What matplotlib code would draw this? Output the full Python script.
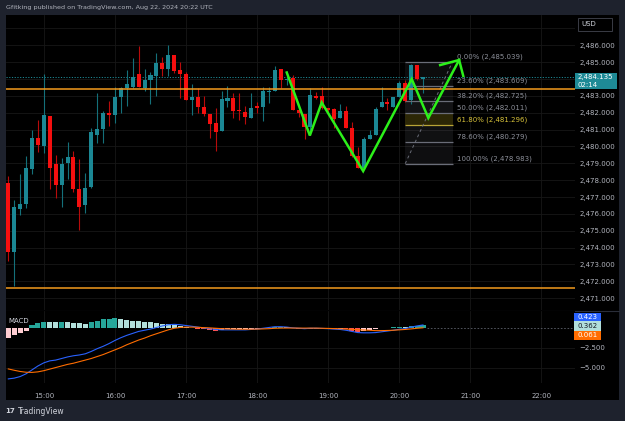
import matplotlib
matplotlib.use("Agg")
import matplotlib.pyplot as plt
import numpy as np
import pandas as pd
from matplotlib.patches import Rectangle
from matplotlib.ticker import FixedLocator, FuncFormatter

# ---------------- data ----------------
start_time = "2024-08-22 14:30"
opens = [2477.85, 2473.76, 2476.31, 2476.60, 2478.68, 2480.48, 2480.04, 2481.81, 2478.96, 2477.70,
         2479.04, 2479.36, 2477.48, 2476.54, 2477.61, 2480.66, 2481.02, 2481.98, 2481.88, 2482.95,
         2483.48, 2483.54, 2484.28, 2483.48, 2483.94, 2484.20, 2484.93, 2484.61, 2485.42, 2484.53,
         2484.28, 2482.75, 2482.91, 2482.34, 2481.92, 2481.39, 2480.93, 2482.71, 2482.87, 2482.16,
         2482.06, 2481.70, 2482.40, 2482.32, 2483.21, 2483.27, 2484.59, 2483.92, 2484.04, 2482.16,
         2481.91, 2481.17, 2482.99, 2482.99, 2482.26, 2482.20, 2481.67, 2482.10, 2481.08, 2479.43,
         2478.72, 2480.42, 2480.68, 2482.32, 2482.62, 2482.32, 2482.95, 2483.74, 2482.75, 2484.83,
         2483.98]
closes = [2473.76, 2476.39, 2476.59, 2478.74, 2480.48, 2480.09, 2481.86, 2478.74, 2477.70, 2478.96,
          2479.36, 2477.48, 2476.41, 2477.52, 2480.86, 2481.03, 2481.98, 2481.88, 2482.95, 2483.48,
          2483.69, 2484.14, 2483.53, 2483.96, 2484.26, 2484.95, 2484.61, 2485.42, 2484.47, 2484.28,
          2482.75, 2482.93, 2482.32, 2481.92, 2481.35, 2480.86, 2482.80, 2482.87, 2482.08, 2482.08,
          2481.75, 2482.30, 2482.30, 2483.31, 2483.29, 2484.53, 2483.94, 2483.98, 2482.14, 2481.97,
          2481.17, 2483.05, 2482.89, 2482.26, 2482.16, 2481.63, 2482.10, 2481.08, 2479.45, 2478.70,
          2480.47, 2480.68, 2482.22, 2482.65, 2482.50, 2482.95, 2483.74, 2482.70, 2484.83, 2484.00,
          2484.135]
highs = [2478.26, 2476.82, 2478.37, 2479.43, 2480.98, 2481.57, 2484.28, 2481.81, 2479.49, 2479.30,
         2480.26, 2479.75, 2479.26, 2478.41, 2481.08, 2483.15, 2482.12, 2482.70, 2483.54, 2483.54,
         2484.53, 2485.26, 2485.97, 2484.59, 2484.40, 2485.54, 2485.29, 2486.02, 2485.42, 2484.99,
         2484.43, 2483.72, 2483.48, 2482.99, 2481.92, 2482.30, 2483.31, 2483.58, 2483.15, 2483.15,
         2482.42, 2483.19, 2482.64, 2483.54, 2483.54, 2484.79, 2484.59, 2484.14, 2484.24, 2482.16,
         2481.91, 2483.45, 2483.25, 2483.54, 2482.26, 2482.26, 2482.52, 2482.40, 2481.47, 2479.95,
         2480.58, 2480.98, 2482.36, 2483.51, 2482.86, 2482.95, 2483.90, 2483.94, 2484.89, 2484.83,
         2484.14]
lows = [2473.22, 2471.72, 2475.93, 2476.33, 2478.37, 2479.69, 2479.63, 2477.46, 2476.96, 2476.43,
        2478.07, 2477.32, 2475.04, 2476.03, 2477.52, 2480.19, 2480.22, 2481.21, 2481.37, 2481.97,
        2482.40, 2483.48, 2483.53, 2483.31, 2482.50, 2483.01, 2484.20, 2484.20, 2484.37, 2482.86,
        2482.75, 2481.88, 2482.00, 2481.82, 2480.48, 2479.73, 2480.93, 2482.36, 2481.69, 2481.57,
        2481.35, 2481.70, 2482.00, 2481.51, 2482.56, 2483.27, 2483.45, 2483.64, 2482.14, 2481.76,
        2480.42, 2480.87, 2482.80, 2482.20, 2482.06, 2481.08, 2481.67, 2481.08, 2479.39, 2478.70,
        2478.64, 2480.42, 2480.68, 2482.32, 2482.16, 2482.32, 2482.95, 2482.65, 2482.52, 2483.94,
        2483.15]

macd_hist = [-1.19, -0.85, -0.64, -0.30, 0.42, 0.64, 0.81, 0.80, 0.76, 0.85,
             0.81, 0.68, 0.64, 0.55, 0.81, 0.98, 1.15, 1.19, 1.27, 1.15,
             1.06, 0.98, 0.89, 0.81, 0.76, 0.68, 0.59, 0.51, 0.38, 0.30,
             0.17, 0.05, -0.05, -0.15, -0.25, -0.30, -0.20, -0.15, -0.15, -0.12,
             -0.12, -0.08, -0.06, 0.00, 0.05, 0.15, 0.15, 0.12, 0.00, -0.05,
             -0.12, -0.05, -0.03, -0.05, -0.06, -0.10, -0.08, -0.15, -0.30, -0.45,
             -0.35, -0.25, -0.12, 0.00, 0.08, 0.12, 0.20, 0.15, 0.30, 0.35,
             0.362]
macd_line = [-6.45, -6.35, -6.15, -5.80, -5.30, -4.80, -4.40, -4.15, -4.05, -3.85,
             -3.65, -3.50, -3.40, -3.25, -2.95, -2.60, -2.30, -1.95, -1.55, -1.20,
             -0.90, -0.65, -0.40, -0.25, -0.10, 0.10, 0.30, 0.45, 0.50, 0.45,
             0.35, 0.25, 0.15, 0.05, -0.05, -0.15, -0.20, -0.20, -0.20, -0.20,
             -0.20, -0.15, -0.10, 0.00, 0.10, 0.20, 0.20, 0.15, 0.05, 0.00,
             -0.05, 0.00, 0.00, -0.02, -0.05, -0.10, -0.15, -0.25, -0.40, -0.55,
             -0.58, -0.58, -0.55, -0.45, -0.35, -0.25, -0.12, -0.05, 0.15, 0.30,
             0.423]
signal_line = [-5.18, -5.35, -5.50, -5.60, -5.62, -5.55, -5.40, -5.20, -5.00, -4.80,
               -4.60, -4.45, -4.25, -4.05, -3.85, -3.60, -3.35, -3.05, -2.75, -2.45,
               -2.10, -1.80, -1.50, -1.25, -0.95, -0.70, -0.45, -0.20, 0.00, 0.10,
               0.15, 0.15, 0.12, 0.08, 0.05, 0.00, -0.05, -0.08, -0.10, -0.12,
               -0.12, -0.12, -0.10, -0.08, -0.05, 0.00, 0.02, 0.03, 0.03, 0.02,
               0.02, 0.02, 0.02, 0.00, -0.02, -0.04, -0.06, -0.10, -0.13, -0.18,
               -0.22, -0.25, -0.30, -0.30, -0.28, -0.25, -0.20, -0.15, -0.08, 0.00,
               0.061]

support_resistance = [2483.39, 2471.60]

fib_pcts = ["0.00%", "23.60%", "38.20%", "50.00%", "61.80%", "78.60%", "100.00%"]
fib_prices = [2485.039, 2483.609, 2482.725, 2482.011, 2481.296, 2480.279, 2478.983]
fib_start, fib_end = 67.0, 75.0

zig_x = [47.0, 50.9, 52.9, 59.9, 68.1, 70.9, 76.1]
zig_p = [2484.39, 2480.65, 2482.61, 2478.54, 2484.00, 2481.69, 2485.13]
arrow_wing_x = [72.9, 76.1, 76.8]
arrow_wing_p = [2484.83, 2485.13, 2484.18]

price_ticks = [2471, 2472, 2473, 2474, 2475, 2476, 2477, 2478, 2479, 2480,
               2481, 2482, 2483, 2485, 2486]
hour_labels = ["15:00", "16:00", "17:00", "18:00", "19:00", "20:00", "21:00", "22:00"]
macd_ticks = [-2.5, -5.0]
macd_last = [0.423, 0.362, 0.061]

# ---------------- layout helpers ----------------
W, H = 625, 421
def fx(px): return px / W
def fy(py): return 1 - py / H

FRAME = "#1e222d"
PANEL = "#000000"
GRID = "#171717"
UP = "#1b8794"
DOWN = "#f50f0f"
UP_WICK = "#14707a"
DOWN_WICK = "#b80b0b"
TXT = "#b2b5be"

fig = plt.figure(figsize=(W / 100, H / 100), dpi=100, facecolor=FRAME)
fig.patches.append(Rectangle((fx(6), fy(400)), (619 - 6) / W, (400 - 15) / H,
                             transform=fig.transFigure, facecolor=PANEL, edgecolor="none", zorder=-5))

n = len(opens)
idx = np.arange(n)
times = pd.date_range(start_time, periods=n, freq="5min")
t0 = times[0]
hour_pos = [((pd.Timestamp("2024-08-22 " + h) - t0).total_seconds() / 300.0) for h in hour_labels]

xlim = (-0.39, 95.66)

# ---------------- main price pane ----------------
ax = fig.add_axes([fx(6), fy(310), (575 - 6) / W, (310 - 15) / H])
ax.set_zorder(2)
ax.set_facecolor(PANEL)
ax.set_xlim(*xlim)
ax.set_ylim(2470.30, 2487.80)
for s in ax.spines.values():
    s.set_visible(False)
ax.yaxis.tick_right()
ax.yaxis.set_major_locator(FixedLocator(price_ticks))
ax.yaxis.set_major_formatter(FuncFormatter(lambda v, p: f"{v:,.3f}"))
ax.tick_params(axis="y", length=0, pad=3, labelsize=5, labelcolor=TXT)
ax.set_xticks(hour_pos)
ax.tick_params(axis="x", length=0, labelbottom=False)
for p in range(2471, 2488):
    ax.axhline(p, color=GRID, lw=0.6, zorder=0)
for hp in hour_pos:
    ax.axvline(hp, color=GRID, lw=0.6, zorder=0)

o = np.array(opens); c = np.array(closes); hi = np.array(highs); lo = np.array(lows)
up = c >= o
colors = np.where(up, UP, DOWN)
wick_colors = np.where(up, UP_WICK, DOWN_WICK)
ax.vlines(idx, lo, hi, colors=wick_colors, lw=0.8, zorder=2)
body_bottom = np.minimum(o, c)
body_h = np.maximum(np.abs(c - o), 0.06)
ax.bar(idx, body_h, bottom=body_bottom, width=0.68, color=colors, linewidth=0, zorder=3)

for lvl in support_resistance:
    ax.axhline(lvl, color="#f39a1e", lw=1.1, zorder=4)

ax.axhline(closes[-1], color="#1e8a96", lw=0.7, ls=(0, (1.2, 1.6)), zorder=1)

# fib retracement
band_colors = ["#787b86", "#787b86", "#787b86", "#c9b21c", "#787b86", "#787b86"]
band_alpha = [0.10, 0.10, 0.16, 0.22, 0.14, 0.12]
for k in range(len(fib_prices) - 1):
    ax.fill_between([fib_start, fib_end], fib_prices[k + 1], fib_prices[k],
                    color=band_colors[k], alpha=band_alpha[k], linewidth=0, zorder=1)
for pct, pr in zip(fib_pcts, fib_prices):
    col = "#b8a436" if pct == "61.80%" else "#6a6d78"
    tcol = "#d8c23a" if pct == "61.80%" else "#8c8f99"
    ax.hlines(pr, fib_start, fib_end, color=col, lw=0.9, zorder=2)
    ax.text(fib_end + 0.7, pr + 0.12, f"{pct} ({pr:,.3f})", fontsize=5, color=tcol,
            va="bottom", ha="left", zorder=5)
ax.plot([fib_start, fib_end], [fib_prices[-1], fib_prices[0]], color="#6a6d78",
        lw=0.7, ls=(0, (3, 3)), zorder=2)

# green zigzag
ax.plot(zig_x, zig_p, color="#2cf01a", lw=1.8, zorder=6, solid_joinstyle="miter")
ax.plot(arrow_wing_x, arrow_wing_p, color="#2cf01a", lw=1.8, zorder=6)

# ---------------- MACD pane ----------------
ax2 = fig.add_axes([fx(6), fy(383), (575 - 6) / W, (383 - 311) / H])
ax2.set_zorder(2)
ax2.set_facecolor(PANEL)
ax2.set_xlim(*xlim)
ax2.set_ylim(-6.97, 2.20)
for s in ax2.spines.values():
    s.set_visible(False)
ax2.yaxis.tick_right()
ax2.yaxis.set_major_locator(FixedLocator(macd_ticks))
ax2.yaxis.set_major_formatter(FuncFormatter(lambda v, p: f"{v:.3f}".replace("-", "\u2212")))
ax2.tick_params(axis="y", length=0, pad=3, labelsize=5, labelcolor=TXT)
ax2.set_xticks(hour_pos)
ax2.set_xticklabels(hour_labels)
ax2.tick_params(axis="x", length=0, pad=7, labelsize=5, labelcolor=TXT)
for t in macd_ticks:
    ax2.axhline(t, color=GRID, lw=0.6, zorder=0)
for hp in hour_pos:
    ax2.axvline(hp, color=GRID, lw=0.6, zorder=0)

hcols = []
prev = None
for v in macd_hist:
    rising = True if prev is None else v >= prev
    if v >= 0:
        hcols.append("#26a69a" if rising else "#b2dfdb")
    else:
        hcols.append("#ffcdd2" if rising else "#ff5252")
    prev = v
ax2.bar(idx, macd_hist, width=0.85, color=hcols, linewidth=0, zorder=2)
ax2.plot(idx, macd_line, color="#2962ff", lw=0.8, zorder=3)
ax2.plot(idx, signal_line, color="#ff6d00", lw=0.8, zorder=3)
ax2.hlines(0, n - 0.4, xlim[1], color="#5d606b", lw=0.6, ls=(0, (2, 2)), zorder=1)
ax2.text(0.005, 0.86, "MACD", transform=ax2.transAxes, fontsize=5, color="#d1d4dc",
         ha="left", va="center")

# separator between panes
fig.add_artist(plt.Line2D([fx(6), fx(619)], [fy(310.7), fy(310.7)], color="#2a2e39", lw=0.8))

# ---------------- axis badges ----------------
def badge(x0, x1, y0, y1, face, lines, tcol, edge="none"):
    fig.patches.append(Rectangle((fx(x0), fy(y1)), (x1 - x0) / W, (y1 - y0) / H,
                                 transform=fig.transFigure, facecolor=face, edgecolor=edge,
                                 lw=0.6, zorder=5))
    k = len(lines)
    for j, s in enumerate(lines):
        yy = y0 + (y1 - y0) * (j + 0.5) / k
        fig.text(fx(x0 + 3), fy(yy), s, fontsize=5, color=tcol, ha="left", va="center", zorder=6)

badge(575, 617, 73.3, 89.3, "#1e8a96", [f"{closes[-1]:,.3f}", "02:14"], "#ffffff")
badge(574, 601, 312.7, 321, "#2962ff", [f"{macd_last[0]:.3f}"], "#ffffff")
badge(574, 601, 321, 330.7, "#b2dfdb", [f"{macd_last[1]:.3f}"], "#131722")
badge(574, 601, 330.7, 340, "#ff6d00", [f"{macd_last[2]:.3f}"], "#ffffff")
badge(578, 612, 17.5, 30.5, "#000000", ["USD"], "#d1d4dc", edge="#434651")

# ---------------- header / footer ----------------
fig.text(fx(6), fy(7.5), "Gfitking published on TradingView.com, Aug 22, 2024 20:22 UTC",
         fontsize=4.6, color="#b2b5be", ha="left", va="center")
fig.text(fx(5), fy(411), "17", fontsize=5, color="#d1d4dc", ha="left", va="center",
         fontweight="bold")
fig.text(fx(18), fy(411), "TradingView", fontsize=5.5, color="#d1d4dc", ha="left", va="center")

fig.savefig("out.png", dpi=100, facecolor=FRAME)
